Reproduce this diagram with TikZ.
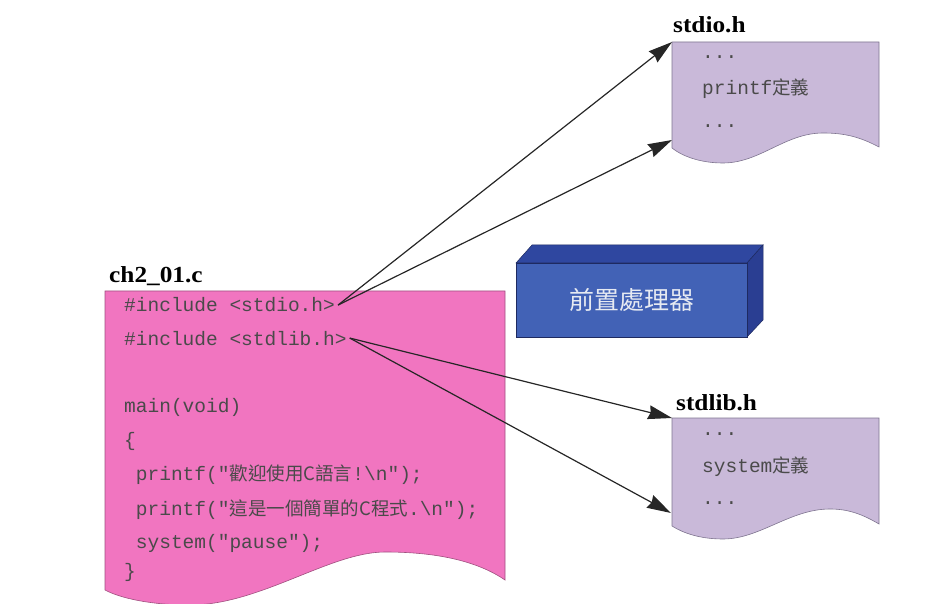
\documentclass[tikz,border=0pt]{standalone}
\usepackage{fontspec}
\setmainfont{Liberation Serif}
\newfontfamily\code{Liberation Mono}
\newfontfamily\cjk[Scale=0.95]{Noto Sans CJK TC}
\newfontfamily\cjkb{Noto Sans CJK TC}
\usetikzlibrary{arrows.meta}
\definecolor{pinkfill}{HTML}{F175C0}
\definecolor{pinkedge}{HTML}{A0507F}
\definecolor{purplefill}{HTML}{C9B9D9}
\definecolor{purpleedge}{HTML}{7F7590}
\definecolor{frontblue}{HTML}{4262B6}
\definecolor{topblue}{HTML}{2F47A0}
\definecolor{sideblue}{HTML}{2A3E92}
\definecolor{navy}{HTML}{1E2A60}
\definecolor{codegray}{HTML}{4A4A4A}
\definecolor{boxtext}{HTML}{E6EAF2}
\begin{document}
\begin{tikzpicture}[x=1pt,y=-1pt,
  codetxt/.style={anchor=base west,inner sep=0pt,text=codegray,font=\code\fontsize{19.5}{20}\selectfont},
  lbl/.style={anchor=base west,inner sep=0pt,font=\bfseries\fontsize{23}{25}\selectfont},
  arr/.style={-{Stealth[length=24pt,width=14pt,inset=2pt]},line width=1.2pt,black!85},
  doc/.style={line width=0.6pt}]
\useasboundingbox (0,0) rectangle (927,604);

% pink source document
\filldraw[doc,fill=pinkfill,draw=pinkedge] (105,291) -- (505,291) -- (505,580)
  .. controls (470,556) and (420,552) .. (385,552)
  .. controls (330,552) and (260,605) .. (190,605)
  .. controls (150,605) and (120,598) .. (105,590) -- cycle;
\node[lbl] (lsrc) at (109,283) {\scalebox{1.1}[1]{ch2\_01.c}};

\node[codetxt] (inc1) at (124,312) {\#include <stdio.h>};
\node[codetxt] (inc2) at (124,345) {\#include <stdlib.h>};
\node[codetxt] (mainl) at (124,412) {main(void)};
\node[codetxt] (lbr) at (124,446) {\{};
\node[codetxt] (pf1) at (124,480) {\ printf("{\cjk 歡迎使用C語言}!\textbackslash n");};
\node[codetxt] (pf2) at (124,515) {\ printf("{\cjk 這是一個簡單的C程式}.\textbackslash n");};
\node[codetxt] (sys) at (124,548) {\ system("pause");};
\node[codetxt] (rbr) at (124,577) {\}};

% stdio.h document
\filldraw[doc,fill=purplefill,draw=purpleedge] (672,42) -- (879,42) -- (879,147)
  .. controls (860,137) and (845,133) .. (823,133)
  .. controls (785,133) and (760,163) .. (723,163)
  .. controls (700,163) and (682,156) .. (672,148) -- cycle;
\node[lbl] (lstdio) at (673,33) {\scalebox{1.1}[1]{stdio.h}};
\node[codetxt] (d1) at (702,59) {...};
\node[codetxt] (d2) at (702,95) {printf{\cjk 定義}};
\node[codetxt] (d3) at (702,128) {...};
\coordinate (stdioA) at (672,42);
\coordinate (stdioB) at (672,140);

% stdlib.h document
\filldraw[doc,fill=purplefill,draw=purpleedge] (672,418) -- (879,418) -- (879,524)
  .. controls (862,514) and (848,509) .. (830,509)
  .. controls (790,509) and (760,539) .. (723,539)
  .. controls (700,539) and (683,533) .. (672,526) -- cycle;
\node[lbl] (lstdlib) at (676,410) {\scalebox{1.1}[1]{stdlib.h}};
\node[codetxt] (e1) at (702,435) {...};
\node[codetxt] (e2) at (702,472) {system{\cjk 定義}};
\node[codetxt] (e3) at (702,504) {...};
\coordinate (stdlibA) at (672,418);
\coordinate (stdlibB) at (671,513);

% preprocessor box
\filldraw[fill=topblue,draw=navy,line width=0.5pt] (516,263) -- (532,245) -- (763,245) -- (747,263) -- cycle;
\filldraw[fill=sideblue,draw=navy,line width=0.5pt] (747,263) -- (763,245) -- (763,320) -- (747,337) -- cycle;
\node[fill=frontblue,draw=navy,line width=0.5pt,minimum width=231pt,minimum height=74pt,inner sep=0pt,
  text=boxtext,font=\cjkb\fontsize{25}{26}\selectfont] (pp) at (631.5,300) {前置處理器};

% connectors
\coordinate (s1) at ([xshift=3pt]inc1.east);
\coordinate (s2) at ([xshift=3pt]inc2.east);
\draw[arr] (s1) -- (stdioA);
\draw[arr] (s1) -- (stdioB);
\draw[arr] (s2) -- (stdlibA);
\draw[arr] (s2) -- (stdlibB);
\end{tikzpicture}
\end{document}
